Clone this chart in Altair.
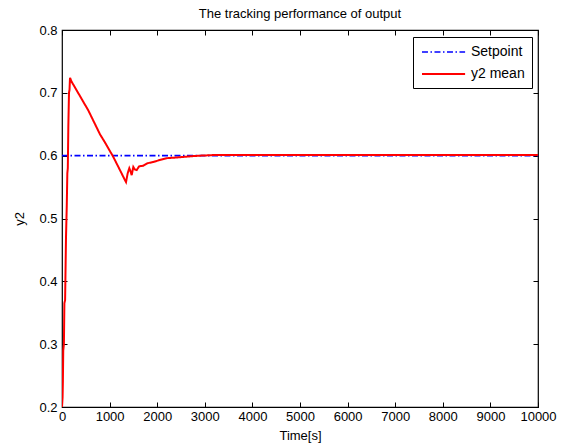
import altair as alt
import pandas as pd

# Time axis (s) and mean output y2
t_mean = [0, 12, 18, 26, 40, 50, 65, 84, 100, 112, 122, 133, 147, 158, 168, 200,
          553, 798, 903, 1078, 1218, 1310, 1345, 1380, 1414, 1440, 1464, 1498, 1530,
          1569, 1620, 1709, 1800, 1919, 2050, 2199, 2400, 2549, 2700, 2900, 3200,
          4000, 5000, 6000, 7000, 8000, 9000, 10000]
y_mean = [0.200, 0.215, 0.238, 0.290, 0.300, 0.365, 0.370, 0.470, 0.520, 0.572, 0.580,
          0.646, 0.700, 0.705, 0.724, 0.718,
          0.672, 0.634, 0.621, 0.598, 0.577, 0.563, 0.558, 0.572, 0.580, 0.575, 0.569,
          0.582, 0.578, 0.577, 0.583, 0.584, 0.588, 0.590, 0.593, 0.596, 0.597, 0.598,
          0.599, 0.600, 0.601, 0.601, 0.601, 0.601, 0.601, 0.601, 0.601, 0.601]

t_set = [0, 10000]
y_set = [0.6, 0.6]

series_names = ["Setpoint", "y2 mean"]
series_colors = ["#0000ff", "#ff0000"]

x_ticks = [0, 1000, 2000, 3000, 4000, 5000, 6000, 7000, 8000, 9000, 10000]
y_ticks = [0.2, 0.3, 0.4, 0.5, 0.6, 0.7, 0.8]

df = pd.concat([
    pd.DataFrame({"t": t_set, "y": y_set, "series": series_names[0]}),
    pd.DataFrame({"t": t_mean, "y": y_mean, "series": series_names[1]}),
])

FONT = "Liberation Sans"

x_scale = alt.Scale(domain=[0, 10000], nice=False)
y_scale = alt.Scale(domain=[0.2, 0.8], nice=False)

legend_def = alt.Legend(title=None, orient="none", legendX=351, legendY=7,
                        symbolType="M-0.86,0H5.3", symbolSize=196,
                        labelOffset=35)

lines = alt.Chart(df).mark_line(clip=True).encode(
    x=alt.X("t:Q", scale=x_scale, title="Time[s]",
            axis=alt.Axis(orient="bottom", values=x_ticks, format="d", offset=-5,
                          tickSize=5, labelPadding=3, domain=False, grid=False,
                          labelOverlap=False, labelFlush=False, titlePadding=6)),
    y=alt.Y("y:Q", scale=y_scale, title="y2",
            axis=alt.Axis(orient="left", values=y_ticks, format=".1f", offset=-5,
                          tickSize=5, labelPadding=5, domain=False, grid=False,
                          labelOverlap=False, labelFlush=False, titlePadding=12)),
    color=alt.Color("series:N",
                    scale=alt.Scale(domain=series_names, range=series_colors),
                    legend=legend_def),
    strokeDash=alt.StrokeDash("series:N",
                              scale=alt.Scale(domain=series_names,
                                              range=[[6, 2.5, 1.5, 2.5], [1, 0]]),
                              legend=legend_def),
    strokeWidth=alt.StrokeWidth("series:N",
                                scale=alt.Scale(domain=series_names, range=[1.6, 2.0]),
                                legend=None),
    order=alt.Order("series:N", sort="ascending"),
)

frame_ticks = alt.Chart(pd.DataFrame({"t": t_set, "y": y_set})).mark_line(opacity=0).encode(
    x=alt.X("t:Q", scale=x_scale, title=None,
            axis=alt.Axis(orient="top", values=x_ticks, labels=False, offset=-5,
                          tickSize=5, domain=False, grid=False)),
    y=alt.Y("y:Q", scale=y_scale, title=None,
            axis=alt.Axis(orient="right", values=y_ticks, labels=False, offset=-5,
                          tickSize=5, domain=False, grid=False)),
)

chart = alt.layer(lines, frame_ticks).resolve_axis(
    x="independent", y="independent"
).properties(
    width=476,
    height=377,
    title=alt.TitleParams("The tracking performance of output", fontSize=13,
                          font=FONT, fontWeight="normal", color="black",
                          anchor="middle", offset=3),
    autosize=alt.AutoSizeParams(type="none"),
    padding={"left": 54, "top": 22, "right": 22, "bottom": 40},
).configure_view(
    stroke="black", strokeWidth=1.2
).configure_axis(
    labelFont=FONT, titleFont=FONT, labelFontSize=13, titleFontSize=13,
    labelColor="black", titleColor="black", tickColor="black",
    titleFontWeight="normal", tickWidth=1
).configure_legend(
    labelFont=FONT, labelFontSize=14, labelColor="black",
    symbolStrokeWidth=2,
    strokeColor="black", fillColor="white", padding=7,
    rowPadding=7, cornerRadius=0, labelLimit=200
)

chart.save("out.html", embed_options={"renderer": "svg", "actions": False})
